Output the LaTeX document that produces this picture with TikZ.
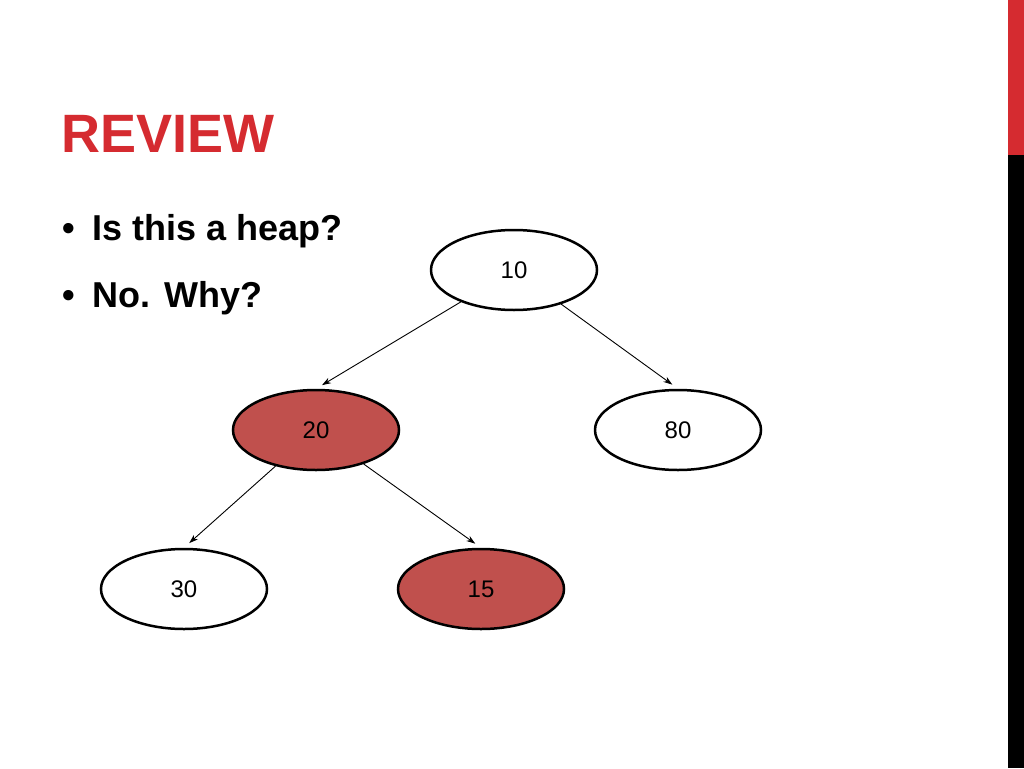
\documentclass[tikz,border=0pt]{standalone}
\usepackage{fontspec}
\setmainfont{Liberation Sans}
\usetikzlibrary{shapes.geometric,arrows.meta}
\definecolor{slidered}{RGB}{213,43,48}
\definecolor{heapred}{RGB}{192,80,77}
\tikzset{
  heapnode/.style={ellipse, draw, line width=2.5pt, minimum width=166pt, minimum height=80pt, inner sep=0pt, font=\fontsize{24}{24}\selectfont},
  edge/.style={-{Stealth[length=9pt,width=6pt]}, line width=0.9pt, shorten >=7pt}
}
\begin{document}
\begin{tikzpicture}[x=1pt,y=-1pt]
\useasboundingbox (0,0) rectangle (1024,768);
\fill[white] (0,0) rectangle (1024,768);
\fill[slidered] (1008,0) rectangle (1024,155);
\fill[black] (1008,155) rectangle (1024,768);
\node[anchor=base west, inner sep=0pt, text=slidered, font=\fontsize{54}{54}\selectfont\bfseries] (title) at (61,152) {REVIEW};
\node[anchor=base west, inner sep=0pt, font=\fontsize{36}{36}\selectfont\bfseries] (q1) at (62,240) {\textbullet\hspace{18pt}Is this a heap?};
\node[anchor=base west, inner sep=0pt, font=\fontsize{36}{36}\selectfont\bfseries] (q2) at (62,307) {\textbullet\hspace{18pt}No. Why?};

\node[heapnode] (n10) at (514,270) {10};
\node[heapnode, fill=heapred] (n20) at (316,430) {20};
\node[heapnode] (n80) at (678,430) {80};
\node[heapnode] (n30) at (184,589) {30};
\node[heapnode, fill=heapred] (n15) at (481,589) {15};

\draw[edge] (n10) -- (n20.north);
\draw[edge] (n10) -- (n80.north);
\draw[edge] (n20) -- (n30.north);
\draw[edge] (n20) -- (n15.north);
\end{tikzpicture}
\end{document}
